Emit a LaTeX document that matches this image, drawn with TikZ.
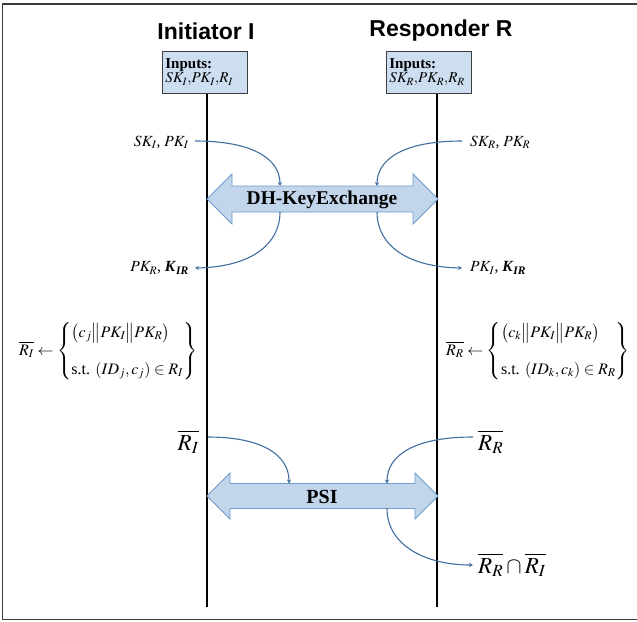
\documentclass[tikz,border=0pt]{standalone}
\usepackage{amsmath}
\usepackage{mathptmx}
\usepackage{fontspec}
\setmainfont{Liberation Serif}
\newfontfamily\titlefont{Liberation Sans}
\usetikzlibrary{arrows.meta}
\definecolor{framegray}{RGB}{60,60,60}
\definecolor{boxfill}{RGB}{204,222,240}
\definecolor{arrfill}{RGB}{194,213,235}
\definecolor{arrdraw}{RGB}{110,155,205}
\definecolor{curveblue}{RGB}{65,110,160}
\tikzset{
  titletext/.style={font=\titlefont\bfseries\fontsize{23}{26}\selectfont, inner sep=0pt},
  inbox/.style={draw=framegray, fill=boxfill, line width=0.8pt, minimum width=85pt, minimum height=42pt, text width=79pt, align=left, inner sep=3pt, font=\fontsize{15}{15}\selectfont},
  lifeline/.style={line width=1.6pt, black},
  flow/.style={curveblue, line width=1.1pt, -{Stealth[length=4pt,width=4pt]}},
  lbl/.style={inner sep=0pt, font=\fontsize{15.5}{18}\selectfont},
  eqn/.style={inner sep=0pt, font=\fontsize{16}{19}\selectfont},
  bigR/.style={inner sep=0pt, font=\fontsize{23}{26}\selectfont},
  bigarrow/.style={draw=arrdraw, fill=arrfill, line width=0.8pt},
  arrtext/.style={inner sep=0pt, font=\bfseries\fontsize{19.5}{22}\selectfont}
}
\begin{document}
\begin{tikzpicture}[x=1pt,y=-1pt]
\useasboundingbox (0,0) rectangle (637,621);
% frame (right side open)
\draw[framegray, line width=1.6pt] (660,4) -- (2.5,4) -- (2.5,619.5) -- (660,619.5);

% titles
\node[titletext] (tI) at (206,31) {Initiator I};
\node[titletext] (tR) at (441,31) {Responder R};

% input boxes
\node[inbox, anchor=north west] (bI) at (162,51) {\textbf{Inputs:}\\[-1pt]$SK_I{,}PK_I{,}R_I$};
\node[inbox, anchor=north west] (bR) at (386,51) {\textbf{Inputs:}\\[-1pt]$SK_R{,}PK_R{,}R_R$};

% lifelines
\coordinate (eI) at (207,607);
\coordinate (eR) at (437,607);
\draw[lifeline] (bI.south -| eI) -- (eI);
\draw[lifeline] (bR.south -| eR) -- (eR);

% DH key exchange arrow
\draw[bigarrow] (207,199) -- (232,174) -- (232,186) -- (413,186) -- (413,174) -- (438,199)
  -- (413,224) -- (413,212) -- (232,212) -- (232,224) -- cycle;
\node[arrtext] (dh) at (322,200) {DH-KeyExchange};

\node[lbl, anchor=east] (skI) at (189,142) {$SK_I$, $PK_I$};
\node[lbl, anchor=west] (skR) at (470,142) {$SK_R$, $PK_R$};
\node[lbl, anchor=east] (pkI) at (189,268) {$PK_R$, $\textbf{\textit{K}}_{\textbf{\textit{IR}}}$};
\node[lbl, anchor=west] (pkR) at (470,268) {$PK_I$, $\textbf{\textit{K}}_{\textbf{\textit{IR}}}$};

\coordinate (dhTL) at (280,186);
\coordinate (dhTR) at (377,186);
\coordinate (dhBL) at (280,212);
\coordinate (dhBR) at (377,212);
\draw[flow] (skI.east) ++(6,-1) .. controls (255,141) and (280,160) .. (dhTL);
\draw[flow] (skR.west) ++(-8,-1) .. controls (402,141) and (377,160) .. (dhTR);
\draw[flow] (dhBL) .. controls (280,245) and (250,267) .. ([xshift=6pt]pkI.east);
\draw[flow] (dhBR) .. controls (377,245) and (407,267) .. ([xshift=-8pt]pkR.west);

% set definitions
\node[eqn, anchor=west] (eqI) at (19,351) {$\overline{R_I}\leftarrow\left\{\begin{array}{@{}l@{}}\rule{0pt}{16pt}\big(c_j\big\|PK_I\big\|PK_R\big)\\[18pt] \text{s.t. }(ID_j,c_j)\in R_I\rule[-7pt]{0pt}{7pt}\end{array}\right\}$};
\node[eqn, anchor=west] (eqR) at (446,351) {$\overline{R_R}\leftarrow\left\{\begin{array}{@{}l@{}}\rule{0pt}{16pt}\big(c_k\big\|PK_I\big\|PK_R\big)\\[18pt] \text{s.t. }(ID_k,c_k)\in R_R\rule[-7pt]{0pt}{7pt}\end{array}\right\}$};

% PSI arrow
\draw[bigarrow] (207,496) -- (230,473) -- (230,483.5) -- (415,483.5) -- (415,473) -- (438,496)
  -- (415,519) -- (415,508.5) -- (230,508.5) -- (230,519) -- cycle;
\node[arrtext, font=\bfseries\fontsize{20}{22}\selectfont] (psi) at (322,497) {PSI};

\node[bigR, anchor=east] (rI) at (199,442) {$\overline{R_I}$};
\node[bigR, anchor=west] (rR) at (478,442) {$\overline{R_R}$};
\node[bigR, anchor=west] (rRI) at (478,565) {$\overline{R_R}\cap\overline{R_I}$};

\coordinate (psTL) at (289,483.5);
\coordinate (psTR) at (387,483.5);
\coordinate (psBR) at (387,508.5);
\draw[flow] (208,437) .. controls (262,437) and (289,455) .. (psTL);
\draw[flow] (473,437) .. controls (415,437) and (387,455) .. (psTR);
\draw[flow] (psBR) .. controls (387,545) and (425,565) .. ([xshift=-5pt]rRI.west);
\end{tikzpicture}
\end{document}
